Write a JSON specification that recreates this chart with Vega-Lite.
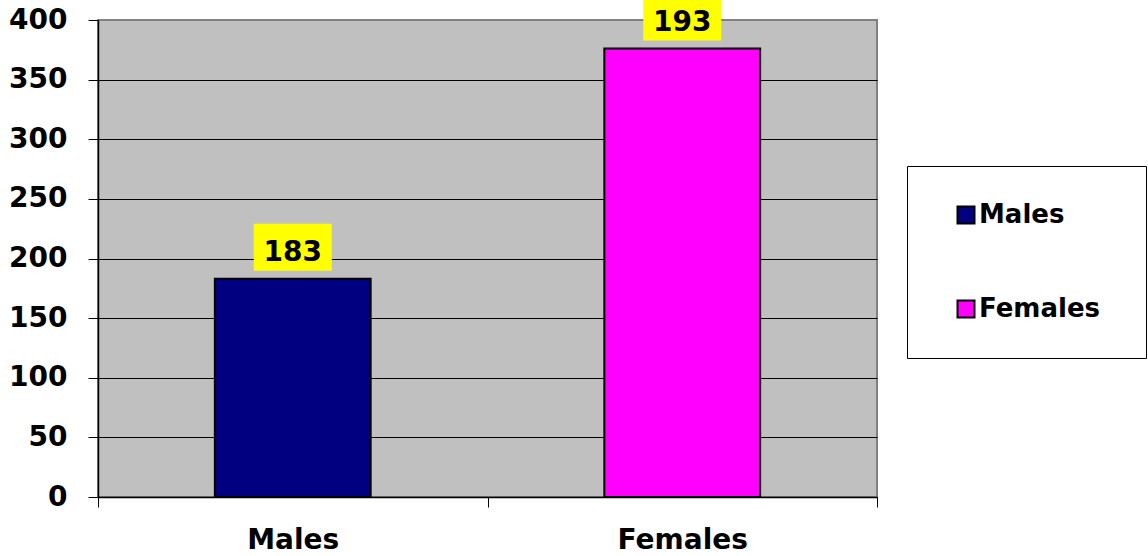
{
  "$schema": "https://vega.github.io/schema/vega-lite/v6.json",
  "width": 779,
  "height": 477,
  "autosize": {"type": "none"},
  "padding": {"left": 98, "top": 20, "right": 271, "bottom": 59},
  "background": "white",
  "data": {
    "values": [
      {"group": "Males", "value": 183, "label": "183"},
      {"group": "Females", "value": 376, "label": "193"}
    ]
  },
  "config": {
    "font": "DejaVu Sans",
    "view": {"fill": "#C0C0C0", "stroke": "#808080", "strokeWidth": 2}
  },
  "encoding": {
    "x": {
      "field": "group",
      "type": "nominal",
      "sort": ["Males", "Females"],
      "scale": {"paddingInner": 0, "paddingOuter": 0},
      "axis": {
        "title": null,
        "labelAngle": 0,
        "labelFontSize": 28,
        "labelFontWeight": "bold",
        "labelColor": "black",
        "labelPadding": 19,
        "tickBand": "extent",
        "tickSize": 10,
        "tickColor": "black",
        "tickWidth": 1,
        "domainColor": "black",
        "domainWidth": 1.5,
        "grid": false
      }
    }
  },
  "layer": [
    {
      "mark": {"type": "bar", "width": {"band": 0.4}, "stroke": "black", "strokeWidth": 2},
      "encoding": {
        "y": {
          "field": "value",
          "type": "quantitative",
          "scale": {"domain": [0, 400], "nice": false},
          "axis": {
            "title": null,
            "values": [0, 50, 100, 150, 200, 250, 300, 350, 400],
            "labelFontSize": 28,
            "labelFontWeight": "bold",
            "labelColor": "black",
            "labelPadding": 21,
            "tickSize": 10,
            "tickColor": "black",
            "tickWidth": 1,
            "domainColor": "black",
            "domainWidth": 1.5,
            "grid": true,
            "gridColor": {"condition": {"test": "datum.value == 400", "value": "#808080"}, "value": "black"},
            "gridWidth": 1
          }
        },
        "color": {
          "field": "group",
          "type": "nominal",
          "sort": ["Males", "Females"],
          "scale": {"domain": ["Males", "Females"], "range": ["#000080", "#FF00FF"]},
          "legend": {
            "orient": "none",
            "legendX": 809,
            "legendY": 146,
            "title": "\u00a0",
            "titleOrient": "right",
            "titleFontSize": 2,
            "titlePadding": 10,
            "strokeColor": "black",
            "fillColor": "white",
            "padding": 36,
            "symbolType": "square",
            "symbolSize": 289,
            "symbolStrokeColor": "black",
            "symbolStrokeWidth": 2,
            "labelFontSize": 26,
            "labelFontWeight": "bold",
            "labelColor": "black",
            "labelFont": "DejaVu Sans",
            "rowPadding": 68,
            "symbolOffset": 10,
            "labelOffset": 0
          }
        }
      }
    },
    {
      "mark": {"type": "bar", "width": 78, "color": "#FFFF00", "yOffset": -55, "y2Offset": -8},
      "encoding": {
        "y": {"field": "value", "type": "quantitative"},
        "y2": {"field": "value"}
      }
    },
    {
      "mark": {"type": "text", "fontSize": 28, "fontWeight": "bold", "baseline": "alphabetic", "dy": -18, "color": "black"},
      "encoding": {
        "y": {"field": "value", "type": "quantitative"},
        "text": {"field": "label"}
      }
    }
  ]
}
